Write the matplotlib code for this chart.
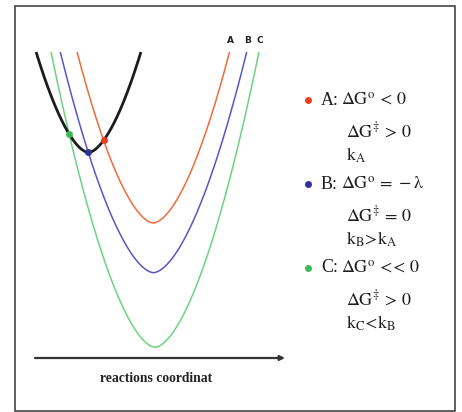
import numpy as np
import matplotlib
matplotlib.use('Agg')
import matplotlib.pyplot as plt
from matplotlib.patches import Rectangle

plt.rcParams['font.family'] = ['Liberation Serif', 'DejaVu Serif']
plt.rcParams['mathtext.fontset'] = 'stix'

# ---- data ----
curve_names = ['R', 'A', 'B', 'C']
curve_centers = [88.5, 153.3, 153.5, 155.0]     # reaction coordinate at minimum
curve_minima = [259.5, 189.0, 139.3, 64.7]      # free energy at minimum
curve_steepness = [0.120, 0.108, 0.099, 0.110]
curve_exponent = 1.7
energy_top = 360.0

legend_labels = ['A:', 'B:', 'C:']
legend_lines = [
    [r'$\mathrm{\Delta G^{o}}\, <\, 0$', r'$\mathrm{\Delta G^{\ddagger}}\, >\, 0$', r'$\mathrm{k_A}$'],
    [r'$\mathrm{\Delta G^{o}}\, =\, -\mathrm{\lambda}$', r'$\mathrm{\Delta G^{\ddagger}}\, =\, 0$', r'$\mathrm{k_B\!>\!k_A}$'],
    [r'$\mathrm{\Delta G^{o}}\, <\!\!<\, 0$', r'$\mathrm{\Delta G^{\ddagger}}\, >\, 0$', r'$\mathrm{k_C\!<\!k_B}$'],
]
axis_label = 'reactions coordinat'

# ---- style ----
curve_colors = ['#1c1c1c', '#f36a3c', '#5a55c6', '#6cd47e']
dot_colors = [None, '#e83f1e', '#30309a', '#40b858']
curve_lw = [2.0, 1.1, 1.1, 1.1]
text_color = '#1e1e1e'

fig = plt.figure(figsize=(4.62, 4.12), dpi=100)
ax = fig.add_axes([0, 0, 1, 1])
ax.set_xlim(0, 462)
ax.set_ylim(0, 412)
ax.axis('off')

fig.patches.append(Rectangle((15 / 462, 1 / 412), 440 / 462, 405 / 412,
                             transform=fig.transFigure, fill=False,
                             edgecolor='#444444', lw=1.2))

def curve(i, n=800):
    c, e0, a = curve_centers[i], curve_minima[i], curve_steepness[i]
    hw = ((energy_top - e0) / a) ** (1 / curve_exponent)
    x = np.linspace(c - hw, c + hw, n)
    return x, e0 + a * np.abs(x - c) ** curve_exponent

curves = [curve(i) for i in range(4)]
for i, (x, e) in enumerate(curves):
    ax.plot(x, e, color=curve_colors[i], lw=curve_lw[i], solid_capstyle='butt',
            zorder=3 if i == 0 else 2)

# intersections of reactant curve with product curves
xr, er = curves[0]
for i in range(1, 4):
    c, e0, a = curve_centers[i], curve_minima[i], curve_steepness[i]
    ep = e0 + a * np.abs(xr - c) ** curve_exponent
    d = er - ep
    idx = np.where((np.sign(d[:-1]) != np.sign(d[1:])) & (xr[:-1] < c))[0]
    k = idx[-1] if i == 1 else idx[0]
    xi = xr[k] - d[k] * (xr[k + 1] - xr[k]) / (d[k + 1] - d[k])
    yi = curve_minima[0] + curve_steepness[0] * abs(xi - curve_centers[0]) ** curve_exponent
    ax.plot([xi], [yi], 'o', color=dot_colors[i], ms=5, mec='none', zorder=4)
    xp, epv = curves[i]
    ax.text(xp[-1] + 0.5, energy_top + 12, curve_names[i], ha='center', va='center',
            fontsize=6.5, fontweight='bold', family='DejaVu Sans', color='#222222')

# reaction coordinate axis
ax.annotate('', xy=(285, 54), xytext=(35, 54),
            arrowprops=dict(arrowstyle='-|>', lw=1.6, color='#333333',
                            mutation_scale=7, shrinkA=0, shrinkB=0))
ax.text(156, 33, axis_label, ha='center', va='center', fontsize=9.8,
        fontweight='bold', color='#222222')

# legend
group_rows = [412 - 100, 412 - 184, 412 - 268]
sub_offsets = [0, 31, 55]
for g in range(3):
    y = group_rows[g]
    ax.plot([308], [y], 'o', color=dot_colors[g + 1], ms=5, mec='none')
    ax.text(321, y, legend_labels[g], ha='left', va='center', fontsize=13, color=text_color)
    ax.text(341, y, legend_lines[g][0], ha='left', va='center', fontsize=13, color=text_color)
    for j in (1, 2):
        ax.text(346, y - sub_offsets[j], legend_lines[g][j], ha='left', va='center',
                fontsize=13, color=text_color)

fig.savefig('out.png', dpi=100)
